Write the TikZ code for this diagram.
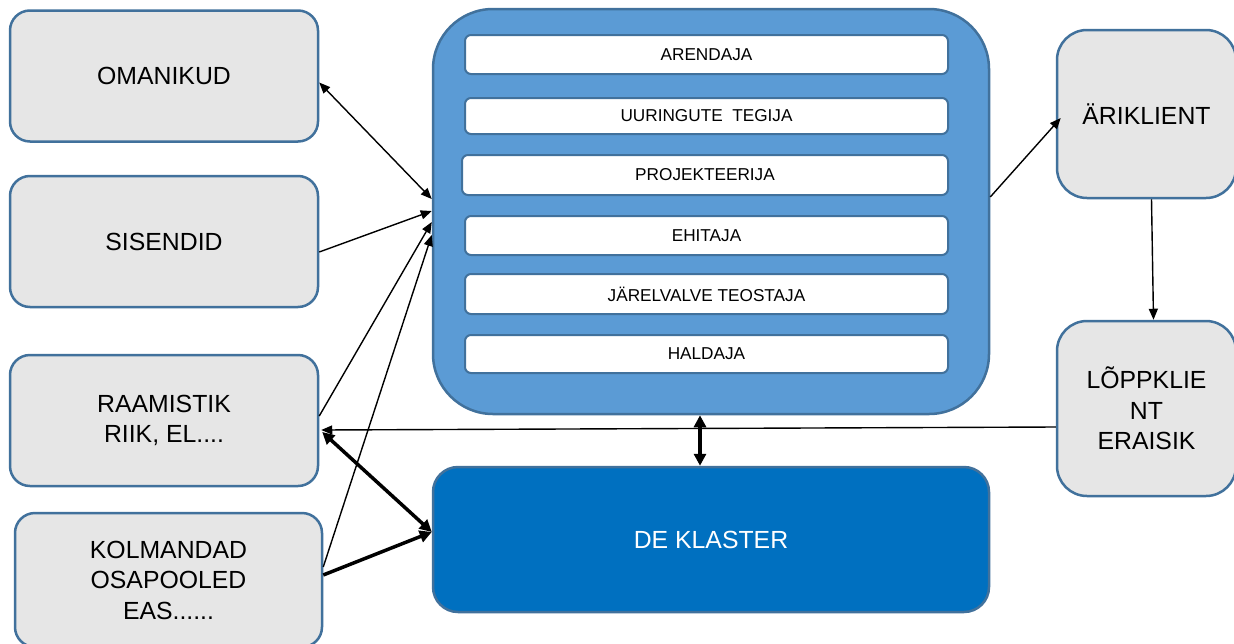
\documentclass[tikz,border=0pt]{standalone}
\usepackage{fontspec}
\setmainfont{Liberation Sans}
\usetikzlibrary{arrows.meta}
\definecolor{bordc}{HTML}{41719C}
\definecolor{greyc}{HTML}{E6E6E6}
\definecolor{mainc}{HTML}{5B9BD5}
\definecolor{darkc}{HTML}{0070C0}
\begin{document}
\begin{tikzpicture}[x=1pt,y=-1pt,
  sidebox/.style={draw=bordc, line width=2.5pt, fill=greyc, rounded corners=20pt,
    font=\fontsize{24.8}{30.5}\selectfont, align=center, inner sep=0pt},
  rolebox/.style={draw=bordc, line width=2pt, fill=white, rounded corners=6pt,
    font=\fontsize{17.2}{20}\selectfont, inner sep=0pt, minimum width=483pt},
  thinarr/.style={line width=1.4pt, >={Triangle[length=11pt,width=9pt]}},
  thickarr/.style={line width=3.5pt, >={Triangle[length=12pt,width=12pt]}}
]
\useasboundingbox (0,0) rectangle (1234,643);
\clip (0,0) rectangle (1234,643);
\fill[white] (0,0) rectangle (1234,643);

% left boxes
\node[sidebox, minimum width=308pt, minimum height=131pt] (omanikud) at (164,76) {OMANIKUD};
\node[sidebox, minimum width=308pt, minimum height=131pt] (sisendid) at (164,241.5) {SISENDID};
\node[sidebox, minimum width=308pt, minimum height=131pt] (raamistik) at (164,420.5) {RAAMISTIK\\RIIK, EL....};
\node[sidebox, minimum width=307pt, minimum height=134pt] (kolmandad) at (168.5,580) {KOLMANDAD\\OSAPOOLED\\EAS......};

% main box
\node[draw=bordc, line width=2.5pt, fill=mainc, rounded corners=60pt,
  minimum width=556pt, minimum height=405pt, inner sep=0pt] (main) at (711,211.5) {};
\node[rolebox, minimum height=39pt] (arendaja) at (706.5,54.5) {ARENDAJA};
\node[rolebox, minimum height=36pt] (uuringute) at (706.5,116) {UURINGUTE~ TEGIJA};
\node[rolebox, minimum height=40pt, minimum width=486pt] (projekteerija) at (705,175) {PROJEKTEERIJA};
\node[rolebox, minimum height=39pt] (ehitaja) at (706.5,235.5) {EHITAJA};
\node[rolebox, minimum height=40pt] (jarelvalve) at (706.5,294) {JÄRELVALVE TEOSTAJA};
\node[rolebox, minimum height=38pt] (haldaja) at (706.5,354) {HALDAJA};

% DE klaster
\node[draw=bordc, line width=2.5pt, fill=darkc, rounded corners=25pt, text=white,
  font=\fontsize{24.8}{30}\selectfont,
  minimum width=556pt, minimum height=145pt, inner sep=0pt] (deklaster) at (711,539.5) {DE KLASTER};

% right boxes
\node[sidebox, rounded corners=30pt, minimum width=179pt, minimum height=168pt] (ariklient) at (1146.5,114) {ÄRIKLIENT};
\node[sidebox, rounded corners=30pt, minimum width=179pt, minimum height=175pt] (loppklient) at (1146.5,408.5) {LÕPPKLIE\\NT\\ERAISIK};

% connectors
\draw[thinarr, <->] ([yshift=-6.5pt]omanikud.east) -- ([yshift=12.5pt]main.west);
\draw[thinarr, ->] ([yshift=-10.5pt]sisendid.east) -- ([yshift=0.5pt]main.west);
\draw[thinarr, ->] ([yshift=4.5pt]raamistik.east) -- ([yshift=-10.5pt]main.west);
\draw[thinarr, ->] ([yshift=13pt]kolmandad.east) -- ([yshift=-23.5pt]main.west);
\draw[thinarr, ->] ([yshift=-18.5pt]loppklient.west) -- ([xshift=2pt,yshift=-9.5pt]raamistik.east);
\draw[thinarr, ->] ([yshift=14.5pt]main.east) -- ([xshift=5pt,yshift=-4pt]ariklient.west);
\draw[thinarr, ->] ([xshift=5pt]ariklient.south) -- ([xshift=7pt]loppklient.north);
\draw[thickarr, <->] ([xshift=3pt,yshift=-11.5pt]raamistik.east) -- ([yshift=7.5pt]deklaster.west);
\draw[thickarr, ->] ([yshift=5pt]kolmandad.east) -- ([yshift=7.5pt]deklaster.west);
\draw[thickarr, <->] ([xshift=-11pt]main.south) -- ([xshift=-11pt]deklaster.north);
\end{tikzpicture}
\end{document}
